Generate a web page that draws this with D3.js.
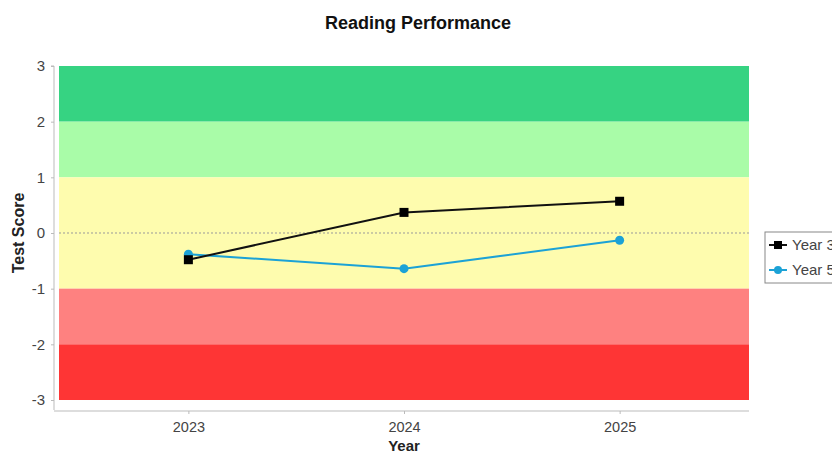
<!DOCTYPE html>
<html>
<head>
<meta charset="utf-8">
<script src="https://cdn.jsdelivr.net/npm/d3@7"></script>
<style>
  html, body { margin: 0; padding: 0; background: #fff; overflow: hidden; }
  text { font-family: "Liberation Sans", Arial, sans-serif; }
</style>
</head>
<body>
<svg id="chart" width="832" height="455"></svg>
<script>
// data
var years = [2023, 2024, 2025];
var year3 = [-0.48, 0.37, 0.57];
var year5 = [-0.38, -0.64, -0.13];
var seriesNames = ["Year 3", "Year 5"];
var yTicks = [-3, -2, -1, 0, 1, 2, 3];
var bandLimits = [[2, 3], [1, 2], [-1, 1], [-2, -1], [-3, -2]];
var bandColors = ["#36d382", "#a9fca8", "#fefcae", "#fe8180", "#fe3535"];

var svg = d3.select("#chart");

var x = d3.scaleLinear().domain([2022.4, 2025.6]).range([59, 749]);
var y = d3.scaleLinear().domain([-3, 3]).range([400, 66]);

// bands
svg.append("g").selectAll("rect").data(bandLimits).enter().append("rect")
  .attr("x", x.range()[0])
  .attr("width", x.range()[1] - x.range()[0])
  .attr("y", function (d) { return y(d[1]); })
  .attr("height", function (d) { return y(d[0]) - y(d[1]); })
  .attr("fill", function (d, i) { return bandColors[i]; });

// zero line
svg.append("line")
  .attr("x1", x.range()[0]).attr("x2", x.range()[1])
  .attr("y1", y(0)).attr("y2", y(0))
  .attr("stroke", "#999").attr("stroke-width", 1)
  .attr("stroke-dasharray", "2,2");

// y axis
var yAxis = svg.append("g")
  .attr("transform", "translate(54,0)")
  .call(d3.axisLeft(y).tickValues(yTicks).tickSize(3).tickPadding(6).tickFormat(function (d) { return String(d); }));
yAxis.select(".domain").attr("stroke", "#bbb").attr("d", "M-3," + y(3) + "H0V" + (y(-3) + 10));
yAxis.selectAll(".tick line").attr("stroke", "#bbb");
yAxis.selectAll(".tick text").attr("fill", "#444").style("font-size", "15px");

// x axis
var xAxis = svg.append("g")
  .attr("transform", "translate(0,411)")
  .call(d3.axisBottom(x).tickValues(years).tickSize(3).tickPadding(8).tickFormat(d3.format("d")));
xAxis.select(".domain").attr("stroke", "#bbb").attr("d", "M54,0H" + x.range()[1]);
xAxis.selectAll(".tick line").attr("stroke", "#bbb");
xAxis.selectAll(".tick text").attr("fill", "#444").style("font-size", "14.5px");

// lines
var line = d3.line()
  .x(function (d, i) { return x(years[i]); })
  .y(function (d) { return y(d); });

svg.append("path").datum(year5)
  .attr("d", line).attr("fill", "none")
  .attr("stroke", "#1ca2d6").attr("stroke-width", 2);
svg.append("g").selectAll("circle").data(year5).enter().append("circle")
  .attr("cx", function (d, i) { return x(years[i]); })
  .attr("cy", function (d) { return y(d); })
  .attr("r", 4.5).attr("fill", "#1ca2d6");

svg.append("path").datum(year3)
  .attr("d", line).attr("fill", "none")
  .attr("stroke", "#111").attr("stroke-width", 2);
svg.append("g").selectAll("rect").data(year3).enter().append("rect")
  .attr("x", function (d, i) { return x(years[i]) - 4.5; })
  .attr("y", function (d) { return y(d) - 4.5; })
  .attr("width", 9).attr("height", 9).attr("fill", "#000");

// titles
svg.append("text").attr("x", 418).attr("y", 29)
  .attr("text-anchor", "middle").style("font-size", "18px").style("font-weight", "bold")
  .attr("fill", "#111").text("Reading Performance");
svg.append("text").attr("transform", "translate(24," + y(0) + ") rotate(-90)")
  .attr("text-anchor", "middle").style("font-size", "16px").style("font-weight", "bold")
  .attr("fill", "#222").text("Test Score");
svg.append("text").attr("x", 404).attr("y", 451)
  .attr("text-anchor", "middle").style("font-size", "15px").style("font-weight", "bold")
  .attr("fill", "#222").text("Year");

// legend (partly outside the window, as in the original)
var legend = svg.append("g").attr("transform", "translate(765,232)");
legend.append("rect").attr("x", 0).attr("y", 0).attr("width", 90).attr("height", 51)
  .attr("fill", "#fff").attr("stroke", "#888");
var legendColors = ["#111", "#1ca2d6"];
seriesNames.forEach(function (name, i) {
  var ly = 13 + i * 25;
  legend.append("line").attr("x1", 4).attr("x2", 22).attr("y1", ly).attr("y2", ly)
    .attr("stroke", legendColors[i]).attr("stroke-width", 2);
  if (i === 0) {
    legend.append("rect").attr("x", 9).attr("y", ly - 4).attr("width", 8).attr("height", 8).attr("fill", "#000");
  } else {
    legend.append("circle").attr("cx", 13).attr("cy", ly).attr("r", 4).attr("fill", legendColors[i]);
  }
  legend.append("text").attr("x", 27).attr("y", ly + 5)
    .style("font-size", "15px").attr("fill", "#444").text(name);
});
</script>
</body>
</html>
